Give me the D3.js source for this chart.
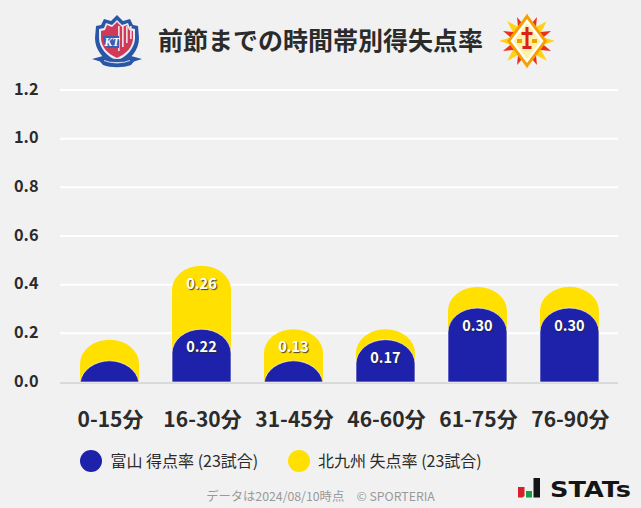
<!DOCTYPE html>
<html><head><meta charset="utf-8">
<script src="https://cdnjs.cloudflare.com/ajax/libs/d3/7.8.5/d3.min.js"></script>
<style>
html,body{margin:0;padding:0;background:#f1f1f1}
svg{display:block}
text{font-family:"Noto Sans CJK JP","Noto Sans",sans-serif}
</style></head><body><svg id="c" width="641" height="508"></svg>
<script>
const categories=["0-15分","16-30分","31-45分","46-60分","61-75分","76-90分"];
const toyamaScored=[0.087,0.217,0.087,0.174,0.304,0.304];
const kitakyushuConceded=[0.087,0.261,0.130,0.043,0.087,0.087];
const yTicks=[0,0.2,0.4,0.6,0.8,1.0,1.2];
const titleText="前節までの時間帯別得失点率";
const legendLabels=["富山 得点率 (23試合)","北九州 失点率 (23試合)"];
const footerText="データは2024/08/10時点　© SPORTERIA";
const BLUE="#1e22aa",YELLOW="#ffe000",INK="#2b2b2b";

const svg=d3.select("#c");
svg.append("rect").attr("width",641).attr("height",508).attr("fill","#f1f1f1");
const x=d3.scaleBand().domain(categories).range([63.5,615.5]).paddingInner(0.359).paddingOuter(0.18);
const y=d3.scaleLinear().domain([0,1.2]).range([382,90]);

// grid + y axis
const yAxis=d3.axisLeft(y).tickValues(yTicks).tickFormat(d3.format(".1f")).tickSize(0).tickPadding(0);
const gy=svg.append("g").attr("transform","translate(38.5,-1.5)").call(yAxis);
gy.select(".domain").remove();
gy.selectAll("text").attr("font-size",16.3).attr("font-weight",700).attr("fill",INK).attr("dy","0.35em");
svg.append("g").selectAll("line").data(yTicks.filter(d=>d>0)).join("line")
  .attr("x1",60).attr("x2",618).attr("y1",d=>y(d)).attr("y2",d=>y(d))
  .attr("stroke","#fff").attr("stroke-width",2);
svg.append("line").attr("x1",60).attr("x2",618).attr("y1",y(0)+1).attr("y2",y(0)+1)
  .attr("stroke","#d9d9d9").attr("stroke-width",2);

// rounded bar: elliptical top, clipped at baseline when shorter than the curve
const RY=24;
function barPath(cat,val){
  const x0=x(cat),w=x.bandwidth(),rx=w/2,top=y(val),base=y(0),h=base-top;
  if(h>=RY) return `M${x0},${base}V${top+RY}A${rx},${RY} 0 0 1 ${x0+w},${top+RY}V${base}Z`;
  const half=rx*Math.sqrt(1-Math.pow((RY-h)/RY,2)),c=x0+rx;
  return `M${c-half},${base}A${rx},${RY} 0 0 1 ${c+half},${base}Z`;
}
const totals=categories.map((c,i)=>toyamaScored[i]+kitakyushuConceded[i]);
svg.append("g").selectAll("path").data(categories).join("path")
  .attr("d",(c,i)=>barPath(c,totals[i])).attr("fill",YELLOW);
svg.append("g").selectAll("path").data(categories).join("path")
  .attr("d",(c,i)=>barPath(c,toyamaScored[i])).attr("fill",BLUE)
  .attr("stroke","#fff").attr("stroke-opacity",0.75).attr("stroke-width",0.8);

// value labels (small values hidden)
const labelData=[];
categories.forEach((c,i)=>{
  if(toyamaScored[i]>=0.1) labelData.push({c,v:toyamaScored[i],top:toyamaScored[i]});
  if(kitakyushuConceded[i]>=0.1) labelData.push({c,v:kitakyushuConceded[i],top:totals[i]});
});
svg.append("g").selectAll("text").data(labelData).join("text")
  .attr("x",d=>x(d.c)+x.bandwidth()/2).attr("y",d=>y(d.top)+18).attr("dy","0.35em")
  .attr("text-anchor","middle").attr("font-size",14.5).attr("font-weight",700).attr("fill","#fff")
  .style("text-shadow","1px 1px 1px rgba(40,40,40,.85)")
  .text(d=>d.v.toFixed(2));

// x axis
const xAxis=d3.axisBottom(x).tickSize(0).tickPadding(0);
const gx=svg.append("g").attr("transform","translate(1,420)").call(xAxis);
gx.select(".domain").remove();
gx.selectAll("text").attr("font-size",21).attr("font-weight",700).attr("fill",INK).attr("dy","0.35em").attr("y",0);

// title
svg.append("text").attr("x",320.5).attr("y",41).attr("dy","0.35em").attr("text-anchor","middle")
  .attr("font-size",25).attr("font-weight",700).attr("fill",INK).text(titleText);

// legend
const legendX=[91,299],legendTextX=[110.5,318],legendColors=[BLUE,YELLOW];
const lg=svg.append("g").selectAll("g").data(legendLabels).join("g");
lg.append("circle").attr("cx",(d,i)=>legendX[i]).attr("cy",461).attr("r",11).attr("fill",(d,i)=>legendColors[i]);
lg.append("text").attr("x",(d,i)=>legendTextX[i]).attr("y",461).attr("dy","0.35em")
  .attr("font-size",16).attr("font-weight",400).attr("fill",INK).text(d=>d);

// footer
svg.append("text").attr("x",320.5).attr("y",497).attr("dy","0.35em").attr("text-anchor","middle")
  .attr("font-size",12.3).attr("fill","#999").text(footerText);

// STATs logo
const st=svg.append("g");
st.append("path").attr("d","M518,487h6.5v9l-2,1.5h-4.5z").attr("fill","#d8202a");
st.append("rect").attr("x",526).attr("y",491).attr("width",6).attr("height",6.5).attr("fill","#12a04a");
st.append("rect").attr("x",533.5).attr("y",478).attr("width",6.5).attr("height",19.5).attr("fill","#151515");
st.append("text").attr("x",550).attr("y",496.5).attr("font-size",22).attr("font-weight",700)
  .attr("textLength",81).attr("lengthAdjust","spacingAndGlyphs")
  .style("font-family","'DejaVu Sans'").attr("fill","#151515").text("STATs");

// Toyama crest
const a=svg.append("g").attr("transform","translate(117,41)");
a.append("path").attr("d","M0,-26L6,-20L13,-22L16,-16L21,-15L22,-3C22,10 13,19 0,25C-13,19 -22,10 -22,-3L-21,-15L-16,-16L-13,-22L-6,-20Z").attr("fill","#2a56a6");
a.append("path").attr("d","M0,-21L5,-16L11,-18L13,-13L18,-12L18,-3C18,7 10,15 0,20C-10,15 -18,7 -18,-3L-18,-12L-13,-13L-11,-18L-5,-16Z").attr("fill","#e9edf5");
a.append("path").attr("d","M0,-19L5,-14L10,-16L12,-11L16,-10L16,-3C16,6 9,13 0,17C-9,13 -16,6 -16,-3L-16,-10L-12,-11L-10,-16L-5,-14Z").attr("fill","#cf3a58");
[1,5,9,13].forEach(v=>a.append("rect").attr("x",v).attr("y",-15).attr("width",1.7).attr("height",26-v).attr("fill","#f4d8de"));
a.append("path").attr("d","M-14,-5L2,-5L2,7L-10,7C-12,4 -14,0 -14,-5Z").attr("fill","#3a5fb0");
a.append("text").attr("x",-5).attr("y",5).attr("text-anchor","middle").attr("font-size",12).attr("font-style","italic").attr("font-weight",700).attr("fill","#fff").style("font-family","'Liberation Serif'").text("KT");
a.append("path").attr("d","M-25,18L-14,15C-6,19 6,19 14,15L25,18L17,20.5L14,24C6,27 -6,27 -14,24L-17,20.5Z").attr("fill","#2a56a6");
a.append("path").attr("d","M-13,19.5C-6,22.5 6,22.5 13,19.5").attr("fill","none").attr("stroke","#c5d0e6").attr("stroke-width",1.3);

// Kitakyushu emblem
const b=svg.append("g").attr("transform","translate(527,41)");
const starPts=(n,ro,ri,rot)=>d3.range(n*2).map(i=>{const r=i%2?ri:ro,t=rot+i*Math.PI/n;return [r*Math.sin(t),-r*Math.cos(t)].join(",");}).join(" ");
b.append("polygon").attr("points",starPts(8,28,13,0)).attr("fill","#ffd21a");
b.append("polygon").attr("points",starPts(8,26,12,Math.PI/8)).attr("fill","#e8321e");
b.append("polygon").attr("points","0,-27 20,0 0,27 -20,0").attr("fill","#f5a000");
b.append("polygon").attr("points","0,-22 16.5,0 0,22 -16.5,0").attr("fill","#fff");
b.append("polygon").attr("points","0,-18 13.5,0 0,18 -13.5,0").attr("fill","#fff1a8");
b.append("path").attr("d","M-1.5,-14h3v5h4v3h-4v11h3v3h-9v-3h3v-11h-4v-3h4z").attr("fill","#d8201e");
b.append("path").attr("d","M-10,-2h5v4h-5zM5,-2h5v4h-5z").attr("fill","#f0a000");
</script></body></html>
